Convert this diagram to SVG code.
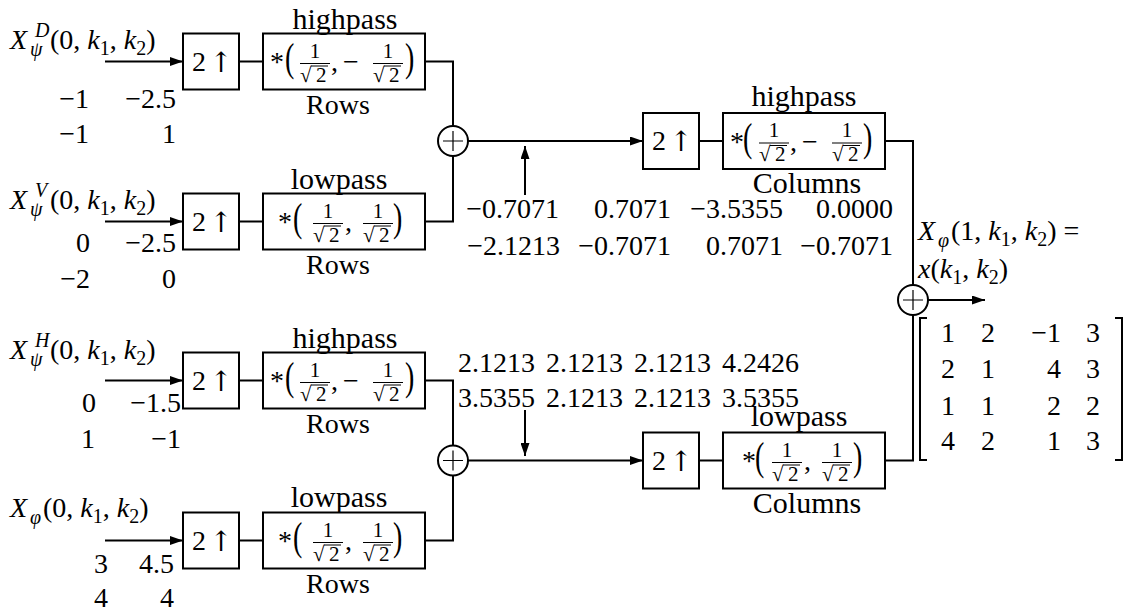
<svg xmlns="http://www.w3.org/2000/svg" width="1140" height="612" viewBox="0 0 1140 612">
<defs>
<marker id="ah" markerUnits="userSpaceOnUse" markerWidth="13" markerHeight="9" refX="13" refY="4.5" orient="auto">
<path d="M0,0 L13,4.5 L0,9 z" fill="#000" stroke="none"/>
</marker>
</defs>
<rect width="1140" height="612" fill="#fff"/>

<g id="connectors" fill="none" stroke="#000" stroke-width="2">
<line x1="105" y1="61.5" x2="183" y2="61.5" marker-end="url(#ah)"/>
<line x1="105" y1="221.5" x2="183" y2="221.5" marker-end="url(#ah)"/>
<line x1="105" y1="380.5" x2="183" y2="380.5" marker-end="url(#ah)"/>
<line x1="105" y1="540.5" x2="183" y2="540.5" marker-end="url(#ah)"/>
<line x1="239" y1="61.5" x2="263" y2="61.5"/>
<line x1="239" y1="221.5" x2="263" y2="221.5"/>
<line x1="239" y1="380.5" x2="263" y2="380.5"/>
<line x1="239" y1="540.5" x2="263" y2="540.5"/>
<polyline points="425,61.5 453,61.5 453,126"/>
<polyline points="425,221.5 453,221.5 453,156"/>
<polyline points="425,380.5 453,380.5 453,445"/>
<polyline points="425,540.5 453,540.5 453,476"/>
<line x1="468" y1="141" x2="643" y2="141" marker-end="url(#ah)"/>
<line x1="468" y1="460.5" x2="643" y2="460.5" marker-end="url(#ah)"/>
<line x1="698" y1="141" x2="723" y2="141"/>
<line x1="698" y1="460.5" x2="723" y2="460.5"/>
<polyline points="885,141 913,141 913,285"/>
<polyline points="885,460.5 913,460.5 913,315"/>
<line x1="928" y1="300" x2="985" y2="300" marker-end="url(#ah)"/>
<line x1="525" y1="195" x2="525" y2="146" marker-end="url(#ah)"/>
<line x1="525" y1="410" x2="525" y2="456" marker-end="url(#ah)"/>
</g>

<g id="in1" fill="#000">
<text x="10" y="49" font-family="'Liberation Serif'" font-size="28" font-style="italic">X</text>
<text x="35" y="37" font-family="'Liberation Serif'" font-size="20" font-style="italic">D</text>
<text x="30" y="56" font-family="'Liberation Serif'" font-size="20" font-style="italic">ψ</text>
<text x="50" y="49" font-family="'Liberation Serif'" font-size="28">(0, <tspan font-style="italic">k</tspan><tspan font-size="20" dy="6">1</tspan><tspan dy="-6">,  </tspan><tspan font-style="italic">k</tspan><tspan font-size="20" dy="6">2</tspan><tspan dy="-6">)</tspan></text>
<text x="89" y="108" font-family="'Liberation Serif'" font-size="28" text-anchor="end">−1</text><text x="176" y="108" font-family="'Liberation Serif'" font-size="28" text-anchor="end">−2.5</text>
<text x="89" y="143" font-family="'Liberation Serif'" font-size="28" text-anchor="end">−1</text><text x="176" y="143" font-family="'Liberation Serif'" font-size="28" text-anchor="end">1</text>
</g>
<g id="in2" fill="#000">
<text x="10" y="209" font-family="'Liberation Serif'" font-size="28" font-style="italic">X</text>
<text x="35" y="197" font-family="'Liberation Serif'" font-size="20" font-style="italic">V</text>
<text x="30" y="216" font-family="'Liberation Serif'" font-size="20" font-style="italic">ψ</text>
<text x="50" y="209" font-family="'Liberation Serif'" font-size="28">(0, <tspan font-style="italic">k</tspan><tspan font-size="20" dy="6">1</tspan><tspan dy="-6">,  </tspan><tspan font-style="italic">k</tspan><tspan font-size="20" dy="6">2</tspan><tspan dy="-6">)</tspan></text>
<text x="90" y="252" font-family="'Liberation Serif'" font-size="28" text-anchor="end">0</text><text x="176" y="252" font-family="'Liberation Serif'" font-size="28" text-anchor="end">−2.5</text>
<text x="90" y="288" font-family="'Liberation Serif'" font-size="28" text-anchor="end">−2</text><text x="176" y="288" font-family="'Liberation Serif'" font-size="28" text-anchor="end">0</text>
</g>
<g id="in3" fill="#000">
<text x="10" y="359" font-family="'Liberation Serif'" font-size="28" font-style="italic">X</text>
<text x="35" y="347" font-family="'Liberation Serif'" font-size="20" font-style="italic">H</text>
<text x="30" y="366" font-family="'Liberation Serif'" font-size="20" font-style="italic">ψ</text>
<text x="50" y="359" font-family="'Liberation Serif'" font-size="28">(0, <tspan font-style="italic">k</tspan><tspan font-size="20" dy="6">1</tspan><tspan dy="-6">,  </tspan><tspan font-style="italic">k</tspan><tspan font-size="20" dy="6">2</tspan><tspan dy="-6">)</tspan></text>
<text x="96" y="412" font-family="'Liberation Serif'" font-size="28" text-anchor="end">0</text><text x="181" y="412" font-family="'Liberation Serif'" font-size="28" text-anchor="end">−1.5</text>
<text x="95" y="448" font-family="'Liberation Serif'" font-size="28" text-anchor="end">1</text><text x="181" y="448" font-family="'Liberation Serif'" font-size="28" text-anchor="end">−1</text>
</g>
<g id="in4" fill="#000">
<text x="10" y="517" font-family="'Liberation Serif'" font-size="28" font-style="italic">X</text>
<text x="30" y="524" font-family="'Liberation Serif'" font-size="20" font-style="italic">φ</text>
<text x="43" y="517" font-family="'Liberation Serif'" font-size="28">(0, <tspan font-style="italic">k</tspan><tspan font-size="20" dy="6">1</tspan><tspan dy="-6">,  </tspan><tspan font-style="italic">k</tspan><tspan font-size="20" dy="6">2</tspan><tspan dy="-6">)</tspan></text>
<text x="108" y="573" font-family="'Liberation Serif'" font-size="28" text-anchor="end">3</text><text x="174" y="573" font-family="'Liberation Serif'" font-size="28" text-anchor="end">4.5</text>
<text x="108" y="607" font-family="'Liberation Serif'" font-size="28" text-anchor="end">4</text><text x="174" y="607" font-family="'Liberation Serif'" font-size="28" text-anchor="end">4</text>
</g>

<g id="up1" transform="translate(183,61.5)" fill="#000"><rect x="0" y="-28" width="56" height="56" fill="#fff" stroke="#000" stroke-width="2"/><text x="9" y="9" font-family="'Liberation Serif'" font-size="28">2</text><text x="38" y="10" font-family="'DejaVu Serif'" font-size="28" text-anchor="middle">↑</text></g>
<g id="up2" transform="translate(183,221.5)" fill="#000"><rect x="0" y="-28" width="56" height="56" fill="#fff" stroke="#000" stroke-width="2"/><text x="9" y="9" font-family="'Liberation Serif'" font-size="28">2</text><text x="38" y="10" font-family="'DejaVu Serif'" font-size="28" text-anchor="middle">↑</text></g>
<g id="up3" transform="translate(183,380.5)" fill="#000"><rect x="0" y="-28" width="56" height="56" fill="#fff" stroke="#000" stroke-width="2"/><text x="9" y="9" font-family="'Liberation Serif'" font-size="28">2</text><text x="38" y="10" font-family="'DejaVu Serif'" font-size="28" text-anchor="middle">↑</text></g>
<g id="up4" transform="translate(183,540.5)" fill="#000"><rect x="0" y="-28" width="56" height="56" fill="#fff" stroke="#000" stroke-width="2"/><text x="9" y="9" font-family="'Liberation Serif'" font-size="28">2</text><text x="38" y="10" font-family="'DejaVu Serif'" font-size="28" text-anchor="middle">↑</text></g>
<g id="up5" transform="translate(643,141)" fill="#000"><rect x="0" y="-28" width="56" height="56" fill="#fff" stroke="#000" stroke-width="2"/><text x="9" y="9" font-family="'Liberation Serif'" font-size="28">2</text><text x="38" y="10" font-family="'DejaVu Serif'" font-size="28" text-anchor="middle">↑</text></g>
<g id="up6" transform="translate(643,460.5)" fill="#000"><rect x="0" y="-28" width="56" height="56" fill="#fff" stroke="#000" stroke-width="2"/><text x="9" y="9" font-family="'Liberation Serif'" font-size="28">2</text><text x="38" y="10" font-family="'DejaVu Serif'" font-size="28" text-anchor="middle">↑</text></g>

<g id="f1" transform="translate(263,61.5)" fill="#000">
<rect x="0" y="-28" width="162" height="56" fill="#fff" stroke="#000" stroke-width="2"/>
<text x="82" y="-33" font-family="'Liberation Serif'" font-size="30" text-anchor="middle">highpass</text>
<text x="75" y="52" font-family="'Liberation Serif'" font-size="28" text-anchor="middle">Rows</text>
<text x="7" y="9.5" font-family="'Liberation Serif'" font-size="28">*</text>
<text transform="translate(22,9.5) scale(1,1.4)" font-family="'Liberation Serif'" font-size="28">(</text>
<text x="52" y="-4" font-family="'Liberation Serif'" font-size="21" text-anchor="middle">1</text><text x="37" y="20" font-family="'Liberation Serif'" font-size="21">√</text><text x="53" y="20" font-family="'Liberation Serif'" font-size="21">2</text>
<text x="68" y="9.5" font-family="'Liberation Serif'" font-size="28">,</text>
<text x="80" y="9.5" font-family="'Liberation Serif'" font-size="28">−</text>
<text x="125" y="-4" font-family="'Liberation Serif'" font-size="21" text-anchor="middle">1</text><text x="110" y="20" font-family="'Liberation Serif'" font-size="21">√</text><text x="126" y="20" font-family="'Liberation Serif'" font-size="21">2</text>
<text transform="translate(142,9.5) scale(1,1.4)" font-family="'Liberation Serif'" font-size="28">)</text>
<path d="M37,2H67M48,4.5H65M110,2H140M121,4.5H138" stroke="#000" stroke-width="1.2"/>
</g>
<g id="f2" transform="translate(263,221.5)" fill="#000">
<rect x="0" y="-28" width="162" height="56" fill="#fff" stroke="#000" stroke-width="2"/>
<text x="76" y="-33" font-family="'Liberation Serif'" font-size="30" text-anchor="middle">lowpass</text>
<text x="75" y="52" font-family="'Liberation Serif'" font-size="28" text-anchor="middle">Rows</text>
<text x="15" y="9.5" font-family="'Liberation Serif'" font-size="28">*</text>
<text transform="translate(30,9.5) scale(1,1.4)" font-family="'Liberation Serif'" font-size="28">(</text>
<text x="65" y="-4" font-family="'Liberation Serif'" font-size="21" text-anchor="middle">1</text><text x="50" y="20" font-family="'Liberation Serif'" font-size="21">√</text><text x="66" y="20" font-family="'Liberation Serif'" font-size="21">2</text>
<text x="82" y="9.5" font-family="'Liberation Serif'" font-size="28">,</text>
<text x="115" y="-4" font-family="'Liberation Serif'" font-size="21" text-anchor="middle">1</text><text x="100" y="20" font-family="'Liberation Serif'" font-size="21">√</text><text x="116" y="20" font-family="'Liberation Serif'" font-size="21">2</text>
<text transform="translate(130,9.5) scale(1,1.4)" font-family="'Liberation Serif'" font-size="28">)</text>
<path d="M50,2H80M61,4.5H78M100,2H130M111,4.5H128" stroke="#000" stroke-width="1.2"/>
</g>
<g id="f3" transform="translate(263,380.5)" fill="#000">
<rect x="0" y="-28" width="162" height="56" fill="#fff" stroke="#000" stroke-width="2"/>
<text x="82" y="-33" font-family="'Liberation Serif'" font-size="30" text-anchor="middle">highpass</text>
<text x="75" y="52" font-family="'Liberation Serif'" font-size="28" text-anchor="middle">Rows</text>
<text x="7" y="9.5" font-family="'Liberation Serif'" font-size="28">*</text>
<text transform="translate(22,9.5) scale(1,1.4)" font-family="'Liberation Serif'" font-size="28">(</text>
<text x="52" y="-4" font-family="'Liberation Serif'" font-size="21" text-anchor="middle">1</text><text x="37" y="20" font-family="'Liberation Serif'" font-size="21">√</text><text x="53" y="20" font-family="'Liberation Serif'" font-size="21">2</text>
<text x="68" y="9.5" font-family="'Liberation Serif'" font-size="28">,</text>
<text x="80" y="9.5" font-family="'Liberation Serif'" font-size="28">−</text>
<text x="125" y="-4" font-family="'Liberation Serif'" font-size="21" text-anchor="middle">1</text><text x="110" y="20" font-family="'Liberation Serif'" font-size="21">√</text><text x="126" y="20" font-family="'Liberation Serif'" font-size="21">2</text>
<text transform="translate(142,9.5) scale(1,1.4)" font-family="'Liberation Serif'" font-size="28">)</text>
<path d="M37,2H67M48,4.5H65M110,2H140M121,4.5H138" stroke="#000" stroke-width="1.2"/>
</g>
<g id="f4" transform="translate(263,540.5)" fill="#000">
<rect x="0" y="-28" width="162" height="56" fill="#fff" stroke="#000" stroke-width="2"/>
<text x="76" y="-34" font-family="'Liberation Serif'" font-size="30" text-anchor="middle">lowpass</text>
<text x="75" y="52" font-family="'Liberation Serif'" font-size="28" text-anchor="middle">Rows</text>
<text x="15" y="9.5" font-family="'Liberation Serif'" font-size="28">*</text>
<text transform="translate(30,9.5) scale(1,1.4)" font-family="'Liberation Serif'" font-size="28">(</text>
<text x="65" y="-4" font-family="'Liberation Serif'" font-size="21" text-anchor="middle">1</text><text x="50" y="20" font-family="'Liberation Serif'" font-size="21">√</text><text x="66" y="20" font-family="'Liberation Serif'" font-size="21">2</text>
<text x="82" y="9.5" font-family="'Liberation Serif'" font-size="28">,</text>
<text x="115" y="-4" font-family="'Liberation Serif'" font-size="21" text-anchor="middle">1</text><text x="100" y="20" font-family="'Liberation Serif'" font-size="21">√</text><text x="116" y="20" font-family="'Liberation Serif'" font-size="21">2</text>
<text transform="translate(130,9.5) scale(1,1.4)" font-family="'Liberation Serif'" font-size="28">)</text>
<path d="M50,2H80M61,4.5H78M100,2H130M111,4.5H128" stroke="#000" stroke-width="1.2"/>
</g>
<g id="f5" transform="translate(723,141)" fill="#000">
<rect x="0" y="-28" width="162" height="56" fill="#fff" stroke="#000" stroke-width="2"/>
<text x="81" y="-35" font-family="'Liberation Serif'" font-size="30" text-anchor="middle">highpass</text>
<text x="84" y="52" font-family="'Liberation Serif'" font-size="30" text-anchor="middle">Columns</text>
<text x="7" y="9.5" font-family="'Liberation Serif'" font-size="28">*</text>
<text transform="translate(20,9.5) scale(1,1.4)" font-family="'Liberation Serif'" font-size="28">(</text>
<text x="51" y="-4" font-family="'Liberation Serif'" font-size="21" text-anchor="middle">1</text><text x="36" y="20" font-family="'Liberation Serif'" font-size="21">√</text><text x="52" y="20" font-family="'Liberation Serif'" font-size="21">2</text>
<text x="67" y="9.5" font-family="'Liberation Serif'" font-size="28">,</text>
<text x="79" y="9.5" font-family="'Liberation Serif'" font-size="28">−</text>
<text x="124" y="-4" font-family="'Liberation Serif'" font-size="21" text-anchor="middle">1</text><text x="109" y="20" font-family="'Liberation Serif'" font-size="21">√</text><text x="125" y="20" font-family="'Liberation Serif'" font-size="21">2</text>
<text transform="translate(140,9.5) scale(1,1.4)" font-family="'Liberation Serif'" font-size="28">)</text>
<path d="M36,2H66M47,4.5H64M109,2H139M120,4.5H137" stroke="#000" stroke-width="1.2"/>
</g>
<g id="f6" transform="translate(723,460.5)" fill="#000">
<rect x="0" y="-28" width="162" height="56" fill="#fff" stroke="#000" stroke-width="2"/>
<text x="76" y="-35" font-family="'Liberation Serif'" font-size="30" text-anchor="middle">lowpass</text>
<text x="84" y="52" font-family="'Liberation Serif'" font-size="30" text-anchor="middle">Columns</text>
<text x="19" y="9.5" font-family="'Liberation Serif'" font-size="28">*</text>
<text transform="translate(32,9.5) scale(1,1.4)" font-family="'Liberation Serif'" font-size="28">(</text>
<text x="64" y="-4" font-family="'Liberation Serif'" font-size="21" text-anchor="middle">1</text><text x="49" y="20" font-family="'Liberation Serif'" font-size="21">√</text><text x="65" y="20" font-family="'Liberation Serif'" font-size="21">2</text>
<text x="81" y="9.5" font-family="'Liberation Serif'" font-size="28">,</text>
<text x="114" y="-4" font-family="'Liberation Serif'" font-size="21" text-anchor="middle">1</text><text x="99" y="20" font-family="'Liberation Serif'" font-size="21">√</text><text x="115" y="20" font-family="'Liberation Serif'" font-size="21">2</text>
<text transform="translate(130,9.5) scale(1,1.4)" font-family="'Liberation Serif'" font-size="28">)</text>
<path d="M49,2H79M60,4.5H77M99,2H129M110,4.5H127" stroke="#000" stroke-width="1.2"/>
</g>

<g id="sum1" transform="translate(453,141)" fill="#fff" stroke="#000"><circle r="15" stroke-width="2"/><path d="M-10,0H10M0,-10V10" stroke-width="1.2"/></g>
<g id="sum2" transform="translate(453,460.5)" fill="#fff" stroke="#000"><circle r="15" stroke-width="2"/><path d="M-10,0H10M0,-10V10" stroke-width="1.2"/></g>
<g id="sum3" transform="translate(913,300)" fill="#fff" stroke="#000"><circle r="15" stroke-width="2"/><path d="M-10,0H10M0,-10V10" stroke-width="1.2"/></g>

<g id="mid1" fill="#000" text-anchor="end">
<text x="559" y="218" font-family="'Liberation Serif'" font-size="28">−0.7071</text><text x="671" y="218" font-family="'Liberation Serif'" font-size="28">0.7071</text><text x="783" y="218" font-family="'Liberation Serif'" font-size="28">−3.5355</text><text x="893" y="218" font-family="'Liberation Serif'" font-size="28">0.0000</text>
<text x="560" y="255" font-family="'Liberation Serif'" font-size="28">−2.1213</text><text x="671" y="255" font-family="'Liberation Serif'" font-size="28">−0.7071</text><text x="783" y="255" font-family="'Liberation Serif'" font-size="28">0.7071</text><text x="893" y="255" font-family="'Liberation Serif'" font-size="28">−0.7071</text>
</g>
<g id="mid2" fill="#000">
<text x="458" y="372" font-family="'Liberation Serif'" font-size="28">2.1213</text><text x="546" y="372" font-family="'Liberation Serif'" font-size="28">2.1213</text><text x="634" y="372" font-family="'Liberation Serif'" font-size="28">2.1213</text><text x="722" y="372" font-family="'Liberation Serif'" font-size="28">4.2426</text>
<text x="458" y="407" font-family="'Liberation Serif'" font-size="28">3.5355</text><text x="546" y="407" font-family="'Liberation Serif'" font-size="28">2.1213</text><text x="634" y="407" font-family="'Liberation Serif'" font-size="28">2.1213</text><text x="722" y="407" font-family="'Liberation Serif'" font-size="28">3.5355</text>
</g>

<g id="out" fill="#000">
<text x="918" y="240" font-family="'Liberation Serif'" font-size="28" font-style="italic">X</text>
<text x="938" y="247" font-family="'Liberation Serif'" font-size="20" font-style="italic">φ</text>
<text x="951" y="240" font-family="'Liberation Serif'" font-size="28">(1, <tspan font-style="italic">k</tspan><tspan font-size="20" dy="6">1</tspan><tspan dy="-6">,  </tspan><tspan font-style="italic">k</tspan><tspan font-size="20" dy="6">2</tspan><tspan dy="-6">)  =</tspan></text>
<text x="918" y="278" font-family="'Liberation Serif'" font-size="28"><tspan font-style="italic">x</tspan>(<tspan font-style="italic">k</tspan><tspan font-size="20" dy="6">1</tspan><tspan dy="-6">,  </tspan><tspan font-style="italic">k</tspan><tspan font-size="20" dy="6">2</tspan><tspan dy="-6">)</tspan></text>
</g>

<g id="matrix" fill="#000">
<path d="M927,318H920V460H927M1115,318H1122V460H1115" fill="none" stroke="#000" stroke-width="2"/>
<g text-anchor="middle">
<text x="948" y="342" font-family="'Liberation Serif'" font-size="28">1</text><text x="988" y="342" font-family="'Liberation Serif'" font-size="28">2</text><text x="1093" y="342" font-family="'Liberation Serif'" font-size="28">3</text>
<text x="948" y="378" font-family="'Liberation Serif'" font-size="28">2</text><text x="988" y="378" font-family="'Liberation Serif'" font-size="28">1</text><text x="1093" y="378" font-family="'Liberation Serif'" font-size="28">3</text>
<text x="948" y="415" font-family="'Liberation Serif'" font-size="28">1</text><text x="988" y="415" font-family="'Liberation Serif'" font-size="28">1</text><text x="1093" y="415" font-family="'Liberation Serif'" font-size="28">2</text>
<text x="948" y="450" font-family="'Liberation Serif'" font-size="28">4</text><text x="988" y="450" font-family="'Liberation Serif'" font-size="28">2</text><text x="1093" y="450" font-family="'Liberation Serif'" font-size="28">3</text>
</g>
<g text-anchor="end">
<text x="1061" y="342" font-family="'Liberation Serif'" font-size="28">−1</text><text x="1061" y="378" font-family="'Liberation Serif'" font-size="28">4</text><text x="1061" y="415" font-family="'Liberation Serif'" font-size="28">2</text><text x="1061" y="450" font-family="'Liberation Serif'" font-size="28">1</text>
</g>
</g>
</svg>
